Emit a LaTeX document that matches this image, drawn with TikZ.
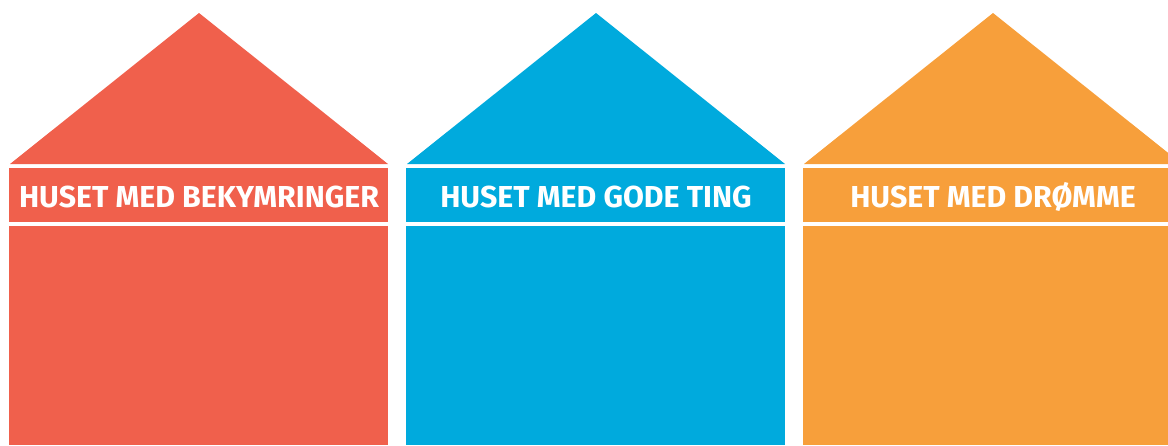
\documentclass[tikz,border=0pt]{standalone}
\usepackage{fontspec}
\setmainfont{Fira Sans}
\definecolor{hred}{RGB}{240,96,76}
\definecolor{hblue}{RGB}{0,170,221}
\definecolor{horange}{RGB}{247,159,59}
\begin{document}
\begin{tikzpicture}[x=1pt,y=-1pt,
  label/.style={text=white,font=\fontsize{30.3}{31}\selectfont\bfseries,inner sep=0pt,anchor=center}]
\useasboundingbox (0,0) rectangle (1168,445);
\clip (0,0) rectangle (1168,445);
\foreach \x/\c/\t/\n in {9/hred/HUSET MED BEKYMRINGER/a,406/hblue/HUSET MED GODE TING/b,803/horange/HUSET MED DRØMME/c}{
  \fill[\c] (\x+1,164) -- (\x+190,13) -- (\x+379,164) -- cycle;
  \fill[\c] (\x,168) rectangle (\x+379,222);
  \fill[\c] (\x,226) rectangle (\x+379,445);
  \node[label] (lab\n) at (\x+190,196.5) {\t};
}
\end{tikzpicture}
\end{document}
